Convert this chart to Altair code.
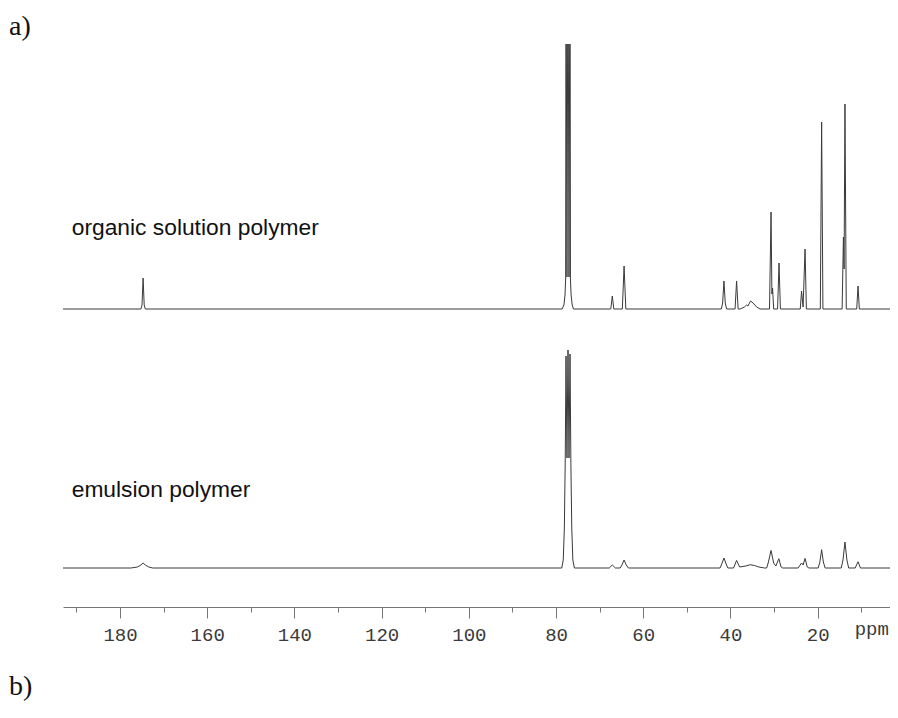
import altair as alt
import pandas as pd

# ---- data (ppm, intensity in px above baseline) ----
top_ppm = [193.07, 175.2, 174.95, 174.7, 174.45, 174.2,
           78.6, 78.2, 77.95, 77.8, 77.72, 77.5, 77.26, 77.03, 76.8, 76.7, 76.55, 76.3, 76.0,
           67.45, 67.1, 66.75, 64.8, 64.4, 64.0,
           42.1, 41.8, 41.5, 41.2, 40.9, 38.95, 38.6, 38.25,
           37.8, 36.8, 36.3, 36.0, 35.4, 34.8, 34.0, 33.2,
           31.05, 30.7, 30.5, 30.35, 30.1, 29.2, 28.87, 28.55,
           24.0, 23.7, 23.35, 22.9, 22.6, 19.4, 19.1, 18.8,
           14.4, 14.1, 13.95, 13.75, 13.45, 11.05, 10.75, 10.45, 3.42]
top_int = [0, 0, 4, 31, 4, 0,
           0, 4, 14, 30, 400, 32, 400, 32, 400, 30, 14, 4, 0,
           0, 13, 0, 0, 43, 0,
           0, 6, 28, 6, 0, 0, 28, 0,
           0, 2, 4, 3, 8, 6, 2, 0,
           0, 97, 15, 21, 0, 0, 46, 0,
           0, 18, 2, 60, 0, 0, 187, 0,
           0, 72, 40, 205, 0, 0, 23, 0, 0]

bot_ppm = [193.07, 177.5, 176.0, 175.2, 174.7, 174.2, 173.4, 172.5,
           78.7, 78.35, 78.1, 77.9, 77.72, 77.5, 77.26, 77.03, 76.8, 76.6, 76.4, 76.15, 75.8,
           67.8, 67.1, 66.4, 65.3, 64.9, 64.4, 63.9, 63.4,
           42.4, 42.0, 41.5, 41.0, 40.6, 39.3, 38.6, 37.9,
           36.5, 35.5, 34.5, 33.5, 32.2,
           31.7, 31.3, 30.7, 30.1, 29.6, 28.9, 28.4, 28.0,
           24.5, 23.7, 23.35, 22.9, 22.4, 22.0,
           19.9, 19.5, 19.1, 18.7, 18.3,
           14.6, 14.2, 13.75, 13.3, 12.9, 11.4, 10.75, 10.2, 3.42]
bot_int = [0, 0, 1, 3, 5, 3, 1, 0,
           0, 8, 40, 105, 212, 110, 218, 110, 214, 105, 40, 8, 0,
           0, 3, 0, 0, 3, 8, 3, 0,
           0, 4, 10, 4, 0, 0, 7.6, 1,
           2, 3.3, 2.5, 1, 0,
           0, 6, 17.6, 5, 2, 9.3, 1, 0,
           0, 5, 3, 9.6, 1, 0,
           0, 6, 18.3, 6, 0,
           0, 8, 26, 8, 0, 0, 6.3, 0, 0]

tick_values = [190, 180, 170, 160, 150, 140, 130, 120, 110, 100,
               90, 80, 70, 60, 50, 40, 30, 20, 10]
series_labels = ["organic solution polymer", "emulsion polymer"]
panel_labels = ["a)", "b)"]

top_df = pd.DataFrame({"ppm": top_ppm, "intensity": top_int})
bot_df = pd.DataFrame({"ppm": bot_ppm, "intensity": bot_int})

x_scale = alt.Scale(domain=[193.07, 3.42], nice=False, zero=False)
y_scale = alt.Scale(domain=[-39, 524], nice=False, zero=False)

x_axis = alt.Axis(
    values=tick_values,
    title=None,
    grid=False,
    tickSize={"condition": {"test": "datum.value % 20 === 0", "value": 11}, "value": 5},
    labelExpr="datum.value === 10 ? 'ppm' : (datum.value % 20 === 0 ? datum.label : '')",
    labelOffset={"condition": {"test": "datum.value === 10", "value": 10}, "value": 0},
    labelOverlap=False,
    labelFlush=False,
    labelFont="Liberation Mono",
    labelFontSize=19,
    labelColor="#3a3a3a",
    labelPadding=7,
    domainColor="#777777",
    tickColor="#777777",
    domainWidth=1,
    tickWidth=1,
)

base_line_color = "#3a3a3a"

top_line = alt.Chart(top_df).mark_line(
    color=base_line_color, strokeWidth=1, clip=True, yOffset=-259
).encode(
    x=alt.X("ppm:Q", scale=x_scale, axis=x_axis),
    y=alt.Y("intensity:Q", scale=y_scale, axis=None),
)

bot_line = alt.Chart(bot_df).mark_line(
    color=base_line_color, strokeWidth=1, clip=True
).encode(
    x=alt.X("ppm:Q", scale=x_scale, axis=x_axis),
    y=alt.Y("intensity:Q", scale=y_scale, axis=None),
)


def text_layer(txt, x, y, font, size):
    return alt.Chart(pd.DataFrame({"t": [txt]})).mark_text(
        align="left", baseline="alphabetic", font=font, fontSize=size, color="#111111"
    ).encode(text="t:N", x=alt.value(x), y=alt.value(y))


lab1 = text_layer(series_labels[0], 8.7, 191, "Liberation Sans", 22.8)
lab2 = text_layer(series_labels[1], 8.7, 452.7, "Liberation Sans", 22.8)
pa = text_layer(panel_labels[0], -54, -9, "Liberation Serif", 28)
pb = text_layer(panel_labels[1], -54, 651, "Liberation Serif", 28)

chart = alt.layer(top_line, bot_line, lab1, lab2, pa, pb).properties(
    width=827,
    height=563,
    autosize=alt.AutoSizeParams(type="none"),
    padding={"left": 55, "top": 36, "right": 0, "bottom": 97},
    background="white",
).configure_view(stroke=None)

chart.save("out.html", embed_options={"renderer": "svg", "actions": False})
